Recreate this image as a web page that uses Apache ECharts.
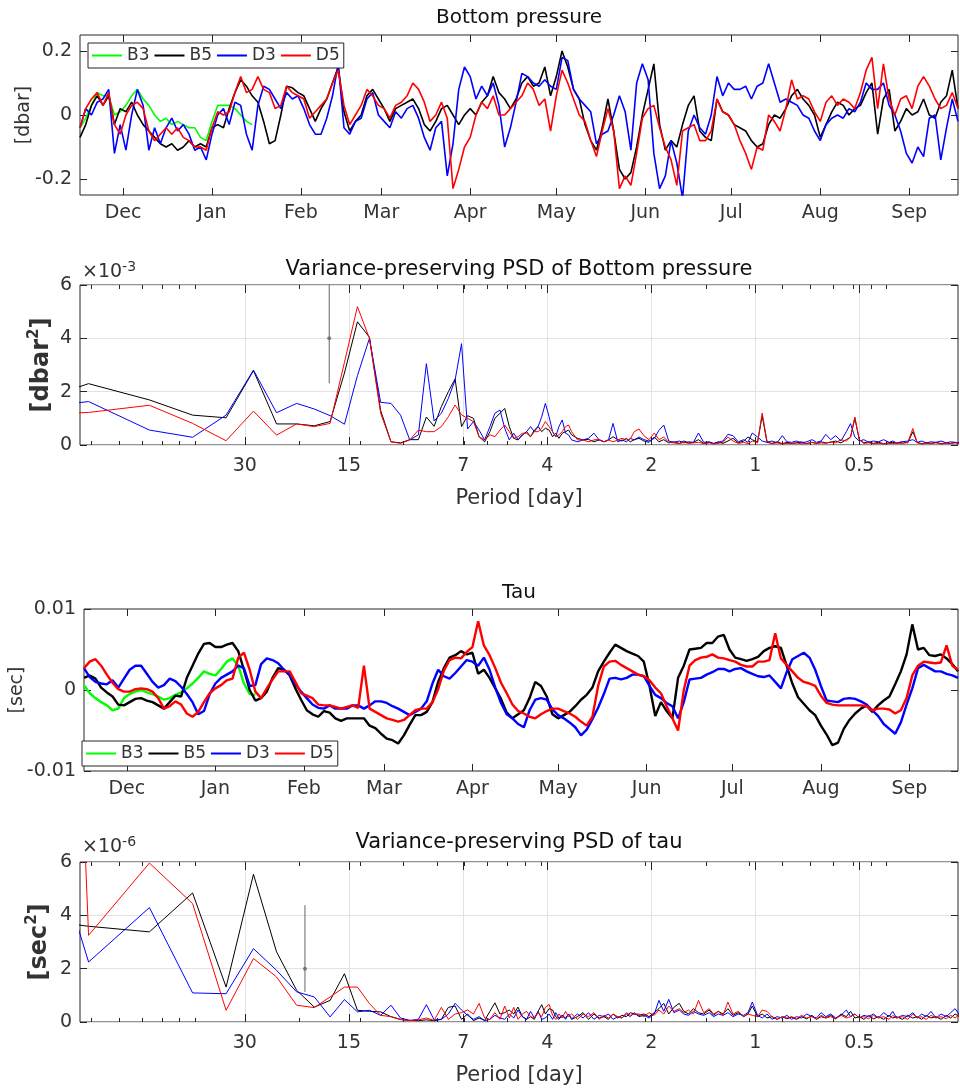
<!DOCTYPE html>
<html>
<head>
<meta charset="utf-8">
<script src="https://cdn.jsdelivr.net/npm/echarts@6/dist/echarts.min.js"></script>
<style>
html, body { margin: 0; padding: 0; background: #fff; }
#chart { width: 960px; height: 1090px; }
</style>
</head>
<body>
<div id="chart"></div>
<script>
// ---------------- data: time series (one sample every 2 days from 16 Nov) ----------------
const startDate = '2018-11-16';
const endDate = '2019-09-18';
const stepDays = 2;
const monthTicks = ['2018-12-01', '2019-01-01', '2019-02-01', '2019-03-01', '2019-04-01',
    '2019-05-01', '2019-06-01', '2019-07-01', '2019-08-01', '2019-09-01'];
const monthNames = ['Jan', 'Feb', 'Mar', 'Apr', 'May', 'Jun', 'Jul', 'Aug', 'Sep', 'Oct', 'Nov', 'Dec'];

// bottom pressure [dbar]
const bpB3 = [-0.04, -0.01, 0.03, 0.07, 0.06, 0.06, 0.0, 0.01, 0.03, 0.06, 0.08, 0.05, 0.03, 0.0, -0.02, -0.01,
    -0.03, -0.02, -0.03, -0.04, -0.04, -0.07, -0.08, -0.02, 0.03, 0.03, 0.03, 0.02, 0.0, -0.02, -0.03];
const bpB5 = [-0.07, -0.03, 0.03, 0.06, 0.03, 0.06, -0.03, 0.02, 0.01, 0.04,
    0.0, -0.03, -0.05, -0.07, -0.09, -0.1, -0.09, -0.11, -0.1, -0.08,
    -0.1, -0.09, -0.1, -0.04, -0.03, -0.04, 0.02, 0.07, 0.11, 0.09,
    0.06, 0.04, -0.02, -0.09, -0.08, 0.0, 0.09, 0.085, 0.07, 0.06,
    0.02, -0.02, 0.02, 0.05, 0.1, 0.15, 0.01, -0.05, -0.02, 0.0,
    0.06, 0.08, 0.05, 0.02, -0.02, 0.02, 0.03, 0.04, 0.05, 0.02,
    -0.03, -0.05, -0.02, 0.02, 0.03, 0.0, -0.03, 0.0, 0.02, 0.0,
    0.04, 0.06, 0.12, 0.07, 0.05, 0.02, 0.05, 0.1, 0.12, 0.09,
    0.1, 0.15, 0.06, 0.12, 0.2, 0.15, 0.08, 0.05, -0.03, -0.08,
    -0.11, -0.04, 0.05, -0.05, -0.17, -0.2, -0.18, -0.1, 0.0, 0.08,
    0.16, -0.03, -0.11, -0.08, -0.1, -0.03, 0.03, 0.06, -0.05, -0.07,
    -0.08, 0.05, 0.01, 0.0, -0.03, -0.04, -0.05, -0.08, -0.1, -0.09,
    -0.03, 0.0, -0.01, 0.02, 0.06, 0.08, 0.05, 0.03, 0.0, -0.07,
    -0.03, 0.01, 0.04, 0.03, 0.0, 0.02, 0.03, 0.07, 0.1, -0.06,
    0.05, 0.08, -0.05, -0.02, 0.02, 0.0, 0.01, 0.05, 0.0, -0.01,
    0.04, 0.06, 0.14, 0.02];
const bpD3 = [-0.04, 0.02, 0.0, 0.04, 0.05, 0.08, -0.12, -0.03, -0.11, 0.0,
    0.08, 0.03, -0.11, -0.04, -0.09, -0.04, -0.01, -0.05, -0.03, -0.06,
    -0.11, -0.1, -0.14, -0.06, 0.0, 0.02, -0.03, 0.04, 0.03, -0.06,
    -0.11, 0.03, 0.09, 0.08, 0.05, 0.02, 0.07, 0.05, 0.06, 0.02,
    -0.03, -0.06, -0.06, -0.01, 0.06, 0.16, -0.04, -0.06, -0.02, -0.01,
    0.05, 0.07, 0.0, -0.02, -0.04, 0.01, -0.01, 0.02, 0.03, -0.01,
    -0.07, -0.11, -0.04, -0.02, -0.19, -0.09, 0.08, 0.15, 0.12, 0.05,
    0.09, 0.06, 0.1, 0.03, -0.1, -0.04, 0.04, 0.13, 0.12, 0.1,
    0.09, 0.11, 0.09, 0.08, 0.18, 0.17, 0.08, 0.05, 0.03, 0.01,
    -0.09, -0.06, -0.05, 0.0, 0.06, 0.01, -0.11, 0.1, 0.16, 0.11,
    -0.12, -0.23, -0.19, -0.08, -0.15, -0.26, -0.05, 0.0, -0.04, -0.06,
    0.0, 0.12, 0.06, 0.1, 0.08, 0.08, 0.09, 0.05, 0.09, 0.1,
    0.16, 0.1, 0.04, 0.05, 0.04, 0.03, 0.0, -0.01, -0.05, -0.08,
    -0.03, -0.01, 0.0, -0.01, 0.02, 0.01, 0.04, 0.1, 0.08, 0.08,
    0.1, 0.03, 0.0, -0.05, -0.12, -0.15, -0.1, -0.13, -0.01, 0.0,
    -0.14, -0.04, 0.05, -0.02];
const bpD5 = [-0.04, 0.02, 0.05, 0.07, 0.03, 0.07, -0.03, -0.06, 0.0, 0.03,
    0.04, 0.02, -0.05, -0.08, -0.06, -0.04, -0.06, -0.04, -0.07, -0.08,
    -0.1, -0.1, -0.11, -0.04, 0.01, 0.0, 0.01, 0.07, 0.12, 0.07,
    0.08, 0.12, 0.08, 0.07, 0.02, 0.03, 0.09, 0.07, 0.06, 0.05,
    -0.01, 0.01, 0.03, 0.05, 0.1, 0.14, 0.03, -0.03, 0.0, 0.03,
    0.08, 0.06, 0.03, 0.02, -0.01, 0.03, 0.04, 0.06, 0.1, 0.08,
    0.04, -0.02, 0.0, 0.04, -0.01, -0.23, -0.17, -0.1, -0.07, 0.0,
    0.04, 0.02, 0.06, 0.0, 0.0, 0.02, 0.04, 0.06, 0.1, 0.08,
    0.03, 0.05, -0.05, 0.06, 0.14, 0.1, 0.05, 0.0, -0.02, -0.08,
    -0.13, -0.05, 0.02, -0.05, -0.23, -0.19, -0.22, -0.12, -0.01, 0.02,
    0.03, -0.04, -0.1, -0.14, -0.22, -0.05, -0.04, -0.03, -0.08, -0.08,
    -0.05, 0.05, 0.01, 0.0, -0.03, -0.08, -0.12, -0.17, -0.1, -0.11,
    0.0, -0.02, -0.05, 0.02, 0.11, 0.05, 0.06, 0.05, 0.01, -0.02,
    0.04, 0.06, 0.03, 0.05, 0.04, 0.02, 0.07, 0.14, 0.18, 0.02,
    0.16, 0.05, 0.0, 0.05, 0.06, 0.02, 0.09, 0.12, 0.09, 0.05,
    0.02, 0.03, 0.07, 0.02];

// tau, read in units of 1e-3 sec
const tauUnit = 1e-3;
const tauB3 = [0.6, -0.4, -1.0, -1.5, -1.9, -2.5, -2.3, -1.0, -0.5, -0.2, 0.0, -0.3, -0.5, -0.8, -1.2, -1.0,
    -0.6, -0.3, 0.2, 0.8, 1.5, 2.3, 2.0, 1.8, 2.6, 3.5, 3.9, 3.0, 0.8, -0.5, -0.6];
const tauB5 = [1.5, 1.8, 1.4, 0.3, -0.3, -0.8, -1.8, -1.9, -1.5, -1.1,
    -1.0, -1.3, -1.5, -1.9, -2.3, -1.5, -0.7, -0.8, 1.5, 3.0,
    4.5, 5.7, 5.8, 5.3, 5.3, 5.6, 5.8, 4.8, 2.5, 0.0,
    -1.3, -1.0, -0.2, 1.5, 2.7, 2.5, 1.8, 0.2, -1.2, -2.5,
    -3.0, -3.3, -2.6, -2.8, -3.5, -3.8, -3.5, -3.5, -3.5, -3.5,
    -4.4, -4.7, -5.4, -6.0, -6.2, -6.6, -5.6, -4.3, -3.1, -3.1,
    -2.7, -1.5, 1.0, 2.7, 4.0, 4.3, 4.8, 4.4, 4.6, 2.0,
    2.5, 1.5, 0.2, -1.1, -2.8, -3.5, -3.0, -2.5, -1.0, 1.0,
    0.5, -0.8, -3.0, -3.5, -3.1, -2.7, -2.0, -1.2, -0.6, 0.3,
    2.3, 3.5, 4.6, 5.6, 5.2, 4.8, 4.5, 4.2, 3.5, 0.5,
    -3.2, -1.5, -2.6, -3.5, 1.5, 3.0, 5.0, 5.1, 5.2, 5.8,
    5.8, 6.6, 6.8, 5.0, 4.0, 3.8, 3.6, 3.8, 4.1, 4.8,
    5.2, 5.4, 5.2, 3.0, 0.8, -0.9, -1.7, -2.5, -3.1, -4.4,
    -5.5, -6.8, -6.5, -4.8, -3.7, -2.9, -2.3, -1.9, -2.7, -1.9,
    -1.3, -0.8, 0.7, 2.3, 4.4, 8.1, 5.0, 5.2, 4.3, 4.2,
    4.4, 3.9, 3.2, 2.3];
const tauD3 = [2.7, 1.6, 1.0, 0.8, 0.7, 1.2, 0.3, 1.4, 2.5, 3.0,
    3.0, 2.0, 1.0, 0.3, 0.6, 1.4, 1.1, 0.4, -0.5, -1.5,
    -3.0, -2.6, -0.5, 0.8, 1.5, 1.9, 2.3, 3.0, 2.7, 0.5,
    0.6, 3.2, 3.9, 3.7, 3.3, 2.5, 1.9, 0.7, -0.2, -1.0,
    -1.8, -2.2, -2.3, -1.9, -2.3, -2.3, -2.3, -1.9, -1.9, -2.3,
    -1.9, -1.4, -1.4, -1.6, -2.0, -2.3, -2.7, -3.1, -2.7, -2.3,
    -1.4, 0.8, 2.5, 1.7, 1.4, 2.1, 2.9, 3.7, 3.5, 3.0,
    4.0, 2.5, 0.3, -1.6, -3.0, -3.5, -4.2, -4.6, -2.5, -1.2,
    -1.0, -1.2, -2.4, -3.1, -3.5, -4.0, -4.6, -5.6, -4.9, -3.6,
    -2.2, -0.5, 1.4, 1.5, 1.3, 1.5, 1.9, 1.9, 1.7, 0.5,
    -0.6, -1.0, -1.6, -2.0, -3.5, -1.5, 1.3, 1.4, 1.5, 1.9,
    2.2, 2.6, 2.6, 2.3, 2.6, 2.7, 2.3, 2.0, 1.7, 1.6,
    1.8, 1.0, 0.2, 2.2, 3.8, 4.2, 4.6, 4.0, 2.5, 0.5,
    -1.3, -1.4, -1.5, -1.1, -1.0, -1.1, -1.4, -1.8, -2.5, -3.2,
    -4.2, -4.8, -5.4, -4.0, -1.8, 0.2, 2.7, 3.1, 2.7, 2.3,
    2.3, 2.0, 1.8, 1.5];
const tauD5 = [2.7, 3.5, 3.8, 3.0, 1.9, 0.9, 0.1, -0.2, -0.2, 0.1,
    0.2, 0.1, -0.2, -1.0, -2.3, -2.0, -1.4, -1.8, -2.9, -3.3,
    -2.7, -1.5, -0.4, 0.2, 0.6, 1.2, 1.4, 4.0, 4.6, 2.5,
    -0.2, -1.0, 0.2, 1.3, 2.3, 2.3, 2.3, 1.0, -0.4, -0.7,
    -1.0, -1.8, -1.9, -1.9, -2.1, -2.3, -2.1, -1.9, -2.2, 3.0,
    -2.3, -2.7, -3.1, -3.5, -3.7, -3.9, -3.7, -3.1, -2.5, -2.3,
    -2.3, -1.5, 0.1, 2.4, 3.7, 4.0, 3.9, 4.7, 5.3, 8.5,
    5.5, 4.3, 2.7, 0.9, -0.4, -1.8, -2.6, -2.9, -3.3, -3.5,
    -3.0, -2.6, -2.3, -2.3, -2.6, -2.9, -3.3, -3.9, -4.4, -3.3,
    0.5, 2.9, 3.5, 3.6, 3.1, 2.7, 2.3, 1.9, 1.7, 1.2,
    0.3, -0.4, -2.0, -3.5, -5.0, 0.0, 3.0, 3.7, 4.0, 4.1,
    4.4, 4.0, 3.9, 3.7, 3.5, 3.1, 2.9, 2.9, 3.5, 3.5,
    3.7, 7.0, 3.9, 3.1, 2.3, 1.5, 1.0, 0.8, 0.5, -0.7,
    -1.6, -1.8, -1.9, -1.9, -1.9, -1.9, -1.9, -2.0, -2.5, -2.3,
    -2.3, -2.4, -2.9, -2.5, -1.0, 1.8, 3.0, 3.5, 3.4, 3.3,
    3.4, 5.5, 3.0, 2.5];

// ---------------- data: variance-preserving spectra ----------------
const periodTicks = [30, 15, 7, 4, 2, 1, 0.5];
const periodMinorTicks = [83.33, 69.44, 59.52, 52.08, 46.3, 41.67, 20.83, 13.89, 10.42, 8.33, 6.94, 5.95,
    5.21, 4.63, 4.17, 2.083, 1.389, 1.042, 0.833, 0.694, 0.595, 0.521, 0.463, 0.417];
const psdPeriod = [170, 85, 56.67, 42.5, 34, 28.33, 24.29, 21.25, 18.89, 17,
    15.45, 14.17, 13.08, 12.14, 11.33, 10.63, 10, 9.44, 8.95, 8.5,
    8.1, 7.73, 7.39, 7.08, 6.8, 6.54, 6.3, 6.07, 5.86, 5.67,
    5.48, 5.31, 5.15, 5, 4.86, 4.72, 4.59, 4.47, 4.36, 4.25,
    4.15, 4.05, 3.95, 3.86, 3.78, 3.7, 3.62, 3.54, 3.47, 3.4,
    3.27, 3.15, 3.04, 2.93, 2.83, 2.74, 2.66, 2.58, 2.5, 2.43, 2.36, 2.3, 2.24,
    2.17, 2.1, 2.03, 1.96, 1.9, 1.84, 1.78, 1.72, 1.66, 1.61,
    1.56, 1.51, 1.46, 1.41, 1.36, 1.32, 1.28, 1.24, 1.2, 1.16,
    1.12, 1.08, 1.05, 1.02, 0.985, 0.955, 0.925, 0.895, 0.865, 0.835,
    0.81, 0.785, 0.76, 0.735, 0.71, 0.685, 0.665, 0.645, 0.625, 0.605,
    0.585, 0.565, 0.545, 0.53, 0.515, 0.5, 0.485, 0.47, 0.455, 0.44,
    0.425, 0.41, 0.4, 0.39, 0.375, 0.362, 0.35, 0.34, 0.33, 0.32,
    0.31, 0.3, 0.29, 0.28, 0.272, 0.264, 0.256];

// bottom pressure PSD, units of 1e-3 dbar^2
const psdBpB5 = [1.0, 2.3, 1.69, 1.12, 1.02, 2.79, 0.79, 0.79, 0.72, 0.88,
    2.7, 4.62, 4.04, 1.3, 0.12, 0.08, 0.2, 0.2, 1.05, 0.7,
    1.44, 2.0, 2.48, 0.69, 1.1, 1.0, 0.31, 0.12, 0.5, 1.0,
    1.19, 1.37, 0.69, 0.25, 0.19, 0.38, 0.5, 0.31, 0.56, 0.69,
    0.5, 0.63, 0.56, 0.31, 0.44, 0.25, 0.44, 0.5, 0.56, 0.38,
    0.25, 0.19, 0.21, 0.12, 0.19, 0.12, 0.19, 0.31, 0.2, 0.15, 0.25, 0.12, 0.2,
    0.25, 0.15, 0.1, 0.3, 0.12, 0.2, 0.08, 0.12, 0.06, 0.15,
    0.08, 0.1, 0.2, 0.06, 0.1, 0.05, 0.12, 0.06, 0.15, 0.25,
    0.08, 0.15, 0.3, 0.2, 0.1, 1.1, 0.1, 0.06, 0.12, 0.05,
    0.1, 0.06, 0.08, 0.12, 0.05, 0.1, 0.06, 0.12, 0.08, 0.1,
    0.15, 0.08, 0.2, 0.3, 1.0, 0.2, 0.08, 0.12, 0.06, 0.1,
    0.05, 0.08, 0.1, 0.06, 0.12, 0.08, 0.5, 0.1, 0.05, 0.08,
    0.06, 0.1, 0.05, 0.08, 0.06, 0.1, 0.05];
const psdBpD3 = [1.15, 1.63, 0.56, 0.29, 1.12, 2.81, 1.21, 1.56, 1.35, 1.1,
    0.78, 2.6, 4.0, 1.6, 1.56, 1.12, 0.19, 0.38, 3.05, 0.9,
    1.19, 1.75, 2.44, 3.8, 0.6, 0.88, 0.56, 0.19, 0.69, 1.19,
    1.31, 0.63, 0.19, 0.44, 0.2, 0.38, 0.5, 0.69, 0.5, 0.69,
    1.06, 1.56, 1.06, 0.5, 0.31, 0.69, 0.94, 0.44, 0.38, 0.19,
    0.12, 0.19, 0.25, 0.44, 0.19, 0.12, 0.19, 0.81, 0.12, 0.19, 0.12, 0.25, 0.19,
    0.3, 0.2, 0.15, 0.25, 0.55, 0.75, 0.15, 0.1, 0.15, 0.08,
    0.12, 0.1, 0.45, 0.1, 0.12, 0.06, 0.1, 0.15, 0.4, 0.35,
    0.12, 0.2, 0.1, 0.45, 0.3, 0.15, 0.1, 0.15, 0.08, 0.35,
    0.12, 0.1, 0.15, 0.08, 0.12, 0.2, 0.1, 0.15, 0.4, 0.2,
    0.35, 0.15, 0.5, 0.8, 0.3, 0.15, 0.2, 0.1, 0.15, 0.12,
    0.2, 0.1, 0.15, 0.08, 0.12, 0.15, 0.2, 0.1, 0.15, 0.08,
    0.12, 0.1, 0.15, 0.08, 0.12, 0.1, 0.08];
const psdBpD5 = [1.1, 1.22, 1.49, 0.81, 0.16, 1.27, 0.37, 0.79, 0.69, 0.81,
    3.1, 5.19, 4.0, 1.19, 0.12, 0.06, 0.19, 0.56, 0.5, 0.5,
    0.69, 1.06, 1.5, 1.13, 1.0, 0.88, 0.31, 0.19, 0.38, 0.31,
    0.56, 0.75, 0.5, 0.25, 0.31, 0.44, 0.44, 0.31, 0.5, 0.5,
    0.63, 0.88, 0.69, 0.5, 0.31, 0.38, 0.5, 0.69, 0.75, 0.5,
    0.19, 0.19, 0.12, 0.19, 0.21, 0.12, 0.19, 0.12, 0.19, 0.25, 0.19, 0.22, 0.5,
    0.6, 0.35, 0.2, 0.45, 0.2, 0.3, 0.1, 0.08, 0.05, 0.1,
    0.06, 0.08, 0.1, 0.05, 0.08, 0.04, 0.06, 0.1, 0.3, 0.15,
    0.06, 0.1, 0.05, 0.15, 0.08, 1.2, 0.15, 0.05, 0.08, 0.04,
    0.06, 0.05, 0.08, 0.04, 0.06, 0.1, 0.05, 0.08, 0.06, 0.12,
    0.08, 0.2, 0.15, 0.3, 1.05, 0.2, 0.06, 0.08, 0.05, 0.06,
    0.04, 0.06, 0.05, 0.08, 0.05, 0.1, 0.62, 0.08, 0.04, 0.06,
    0.05, 0.08, 0.04, 0.06, 0.05, 0.08, 0.04];

// tau PSD, units of 1e-6 sec^2
const psdTauB5 = [4.07, 3.59, 3.38, 4.84, 1.31, 5.54, 2.63, 1.19, 0.56, 0.81,
    1.81, 0.44, 0.4, 0.38, 0.2, 0.09, 0.06, 0.05, 0.08, 0.05,
    0.1, 0.55, 0.6, 0.1, 0.3, 0.05, 0.15, 0.06, 0.4, 0.72,
    0.3, 0.35, 0.45, 0.3, 0.56, 0.2, 0.1, 0.2, 0.1, 0.4,
    0.65, 0.3, 0.5, 0.45, 0.2, 0.1, 0.25, 0.15, 0.3, 0.1,
    0.2, 0.35, 0.1, 0.3, 0.15, 0.2, 0.1, 0.3, 0.15, 0.25, 0.2, 0.35, 0.3,
    0.25, 0.3, 0.2, 0.35, 0.5, 0.7, 0.3, 0.55, 0.7, 0.4,
    0.3, 0.5, 0.35, 0.3, 0.45, 0.25, 0.4, 0.3, 0.5, 0.25,
    0.35, 0.2, 0.3, 0.6, 0.2, 0.3, 0.15, 0.2, 0.1, 0.2,
    0.12, 0.18, 0.1, 0.2, 0.12, 0.25, 0.1, 0.2, 0.15, 0.25,
    0.12, 0.3, 0.2, 0.4, 0.15, 0.2, 0.1, 0.25, 0.12, 0.2,
    0.1, 0.25, 0.15, 0.2, 0.1, 0.25, 0.15, 0.2, 0.1, 0.25,
    0.15, 0.2, 0.1, 0.25, 0.15, 0.3, 0.2];
const psdTauD3 = [15, 2.25, 4.29, 1.09, 1.06, 2.75, 1.94, 1.13, 0.94, 0.19,
    0.84, 0.38, 0.44, 0.25, 0.63, 0.15, 0.06, 0.1, 0.65, 0.08,
    0.1, 0.3, 0.7, 0.45, 0.25, 0.1, 0.2, 0.05, 0.1, 0.25,
    0.15, 0.1, 0.3, 0.15, 0.45, 0.2, 0.1, 0.4, 0.15, 0.4,
    0.1, 0.15, 0.3, 0.1, 0.35, 0.15, 0.25, 0.1, 0.3, 0.12,
    0.3, 0.15, 0.35, 0.1, 0.25, 0.2, 0.3, 0.1, 0.2, 0.15, 0.3, 0.2, 0.35,
    0.2, 0.25, 0.15, 0.3, 0.81, 0.4, 0.85, 0.35, 0.45, 0.3,
    0.25, 0.4, 0.3, 0.25, 0.35, 0.2, 0.3, 0.25, 0.35, 0.2,
    0.3, 0.25, 0.35, 0.75, 0.25, 0.15, 0.3, 0.1, 0.2, 0.15,
    0.25, 0.1, 0.2, 0.15, 0.3, 0.2, 0.15, 0.35, 0.2, 0.3,
    0.15, 0.25, 0.45, 0.2, 0.3, 0.15, 0.25, 0.2, 0.3, 0.15,
    0.35, 0.2, 0.4, 0.15, 0.25, 0.2, 0.35, 0.15, 0.3, 0.2,
    0.4, 0.15, 0.3, 0.2, 0.35, 0.5, 0.25];
const psdTauD5 = [100, 3.25, 5.96, 4.44, 0.44, 2.38, 1.69, 0.63, 0.54, 0.94,
    1.31, 1.31, 0.69, 0.25, 0.2, 0.1, 0.05, 0.08, 0.15, 0.06,
    0.55, 0.1, 0.3, 0.35, 0.45, 0.3, 0.7, 0.15, 0.1, 0.35,
    0.1, 0.6, 0.15, 0.55, 0.1, 0.3, 0.4, 0.2, 0.15, 0.35,
    0.2, 0.55, 0.66, 0.25, 0.1, 0.3, 0.15, 0.4, 0.2, 0.3,
    0.1, 0.3, 0.2, 0.35, 0.1, 0.25, 0.15, 0.3, 0.2, 0.15, 0.35, 0.25, 0.3,
    0.3, 0.2, 0.35, 0.25, 0.45, 0.3, 0.6, 0.4, 0.5, 0.35,
    0.45, 0.3, 0.81, 0.35, 0.5, 0.3, 0.4, 0.25, 0.75, 0.3,
    0.4, 0.2, 0.3, 0.25, 0.2, 0.45, 0.4, 0.2, 0.1, 0.2,
    0.15, 0.2, 0.12, 0.25, 0.15, 0.2, 0.1, 0.25, 0.15, 0.2,
    0.12, 0.25, 0.15, 0.2, 0.3, 0.15, 0.2, 0.12, 0.25, 0.15,
    0.2, 0.1, 0.25, 0.15, 0.2, 0.1, 0.3, 0.15, 0.2, 0.1,
    0.25, 0.15, 0.2, 0.12, 0.25, 0.15, 0.3];

// confidence bars: [period, low, estimate, high]
const bpErrorBar = [17.1, 2.31, 4.0, 8.76];
const tauErrorBar = [20.1, 1.13, 2.0, 4.38];

// ---------------- chart ----------------
const FONT = 'DejaVu Sans';
const AXIS_COLOR = '#262626';
const TEXT_COLOR = '#333';
const GRID_COLOR = '#e2e2e2';
const COLORS = { B3: '#00ff00', B5: '#000000', D3: '#0000ff', D5: '#ff0000' };
const DAY = 86400000;
const T0 = Date.parse(startDate);
const T1 = Date.parse(endDate);
const monthTickTimes = monthTicks.map(s => Date.parse(s));
const PMIN = 0.259, PMAX = 90;

const chart = echarts.init(document.getElementById('chart'));

// x in milliseconds on a plain value axis, ticks at month starts
function timeAxis(gridIndex, position, withLabels) {
    return {
        type: 'value', gridIndex: gridIndex, position: position, min: T0, max: T1,
        axisLine: { show: false, onZero: false },
        axisTick: { show: true, inside: true, length: 7, customValues: monthTickTimes,
            lineStyle: { color: AXIS_COLOR, width: 1 } },
        axisLabel: { show: withLabels, customValues: monthTickTimes, margin: 9,
            formatter: v => monthNames[new Date(v).getUTCMonth()],
            fontFamily: FONT, fontSize: 19, color: TEXT_COLOR },
        splitLine: { show: false }
    };
}

function periodAxis(gridIndex, position, ticks, len, withLabels, withGrid) {
    return {
        type: 'log', gridIndex: gridIndex, position: position, inverse: true, min: PMIN, max: PMAX,
        axisLine: { show: false, onZero: false },
        axisTick: { show: true, inside: true, length: len, customValues: ticks,
            lineStyle: { color: AXIS_COLOR, width: 1 } },
        axisLabel: { show: withLabels, customValues: ticks, margin: 12,
            formatter: v => String(+Number(v).toPrecision(3)),
            fontFamily: FONT, fontSize: 19, color: TEXT_COLOR },
        splitLine: { show: withGrid, lineStyle: { color: GRID_COLOR, width: 1 } },
        name: withLabels ? 'Period [day]' : '',
        nameLocation: 'middle', nameGap: 43, nameMoveOverlap: false,
        nameTextStyle: { fontFamily: FONT, fontSize: 21, color: TEXT_COLOR }
    };
}

function valueAxis(gridIndex, position, cfg) {
    const isLeft = position === 'left';
    return {
        type: 'value', gridIndex: gridIndex, position: position,
        min: cfg.min, max: cfg.max,
        axisLine: { show: false, onZero: false },
        axisTick: { show: true, inside: true, length: 7, customValues: cfg.ticks,
            lineStyle: { color: AXIS_COLOR, width: 1 } },
        axisLabel: { show: isLeft, customValues: cfg.ticks, margin: 8,
            formatter: v => String(v),
            fontFamily: FONT, fontSize: 19, color: TEXT_COLOR },
        splitLine: { show: !!cfg.grid && isLeft, lineStyle: { color: GRID_COLOR, width: 1 } },
        name: isLeft ? cfg.name : '',
        nameLocation: 'middle', nameRotate: 90, nameGap: cfg.nameGap, nameMoveOverlap: false,
        nameTextStyle: cfg.nameStyle
    };
}

const plainName = { fontFamily: FONT, fontSize: 19, color: TEXT_COLOR };
const supName = {
    rich: {
        n: { fontFamily: FONT, fontSize: 24, fontWeight: 'bold', color: TEXT_COLOR, lineHeight: 30 },
        s: { fontFamily: FONT, fontSize: 15, fontWeight: 'bold', color: TEXT_COLOR, lineHeight: 16, verticalAlign: 'top' }
    }
};

const grids = [
    { left: 80, right: 2, top: 35, height: 160 },
    { left: 80, right: 2, top: 285, height: 160 },
    { left: 80, right: 2, top: 609, height: 162 },
    { left: 80, right: 2, top: 862, height: 160 }
].map(g => Object.assign({ show: true, borderColor: AXIS_COLOR, borderWidth: 1, backgroundColor: '#fff' }, g));

const xAxes = [
    timeAxis(0, 'bottom', true),                                 // 0
    timeAxis(0, 'top', false),                                   // 1
    periodAxis(1, 'bottom', periodTicks, 8, true, true),         // 2
    periodAxis(1, 'top', periodTicks, 8, false, false),          // 3
    periodAxis(1, 'bottom', periodMinorTicks, 4, false, false),  // 4
    periodAxis(1, 'top', periodMinorTicks, 4, false, false),     // 5
    timeAxis(2, 'bottom', true),                                 // 6
    timeAxis(2, 'top', false),                                   // 7
    periodAxis(3, 'bottom', periodTicks, 8, true, true),         // 8
    periodAxis(3, 'top', periodTicks, 8, false, false),          // 9
    periodAxis(3, 'bottom', periodMinorTicks, 4, false, false),  // 10
    periodAxis(3, 'top', periodMinorTicks, 4, false, false)      // 11
];

const bpCfg = { min: -0.25, max: 0.25, ticks: [-0.2, 0, 0.2], name: '[dbar]', nameGap: 46, nameStyle: plainName };
const psdBpCfg = { min: 0, max: 6, ticks: [0, 2, 4, 6], grid: true, name: '{n|[dbar}{s|2}{n|]}', nameGap: 23, nameStyle: supName };
const tauCfg = { min: -0.01, max: 0.01, ticks: [-0.01, 0, 0.01], name: '[sec]', nameGap: 57, nameStyle: plainName };
const psdTauCfg = { min: 0, max: 6, ticks: [0, 2, 4, 6], grid: true, name: '{n|[sec}{s|2}{n|]}', nameGap: 25, nameStyle: supName };

const yAxes = [
    valueAxis(0, 'left', bpCfg), valueAxis(0, 'right', bpCfg),
    valueAxis(1, 'left', psdBpCfg), valueAxis(1, 'right', psdBpCfg),
    valueAxis(2, 'left', tauCfg), valueAxis(2, 'right', tauCfg),
    valueAxis(3, 'left', psdTauCfg), valueAxis(3, 'right', psdTauCfg)
];

function tsSeries(name, values, xi, yi, scale, width) {
    return {
        type: 'line', name: name, xAxisIndex: xi, yAxisIndex: yi,
        showSymbol: false, symbol: 'none', clip: true,
        lineStyle: { color: COLORS[name], width: width },
        itemStyle: { color: COLORS[name] },
        data: values.map((v, i) => [T0 + i * stepDays * DAY, v * scale])
    };
}

function psdSeries(name, values, xi, yi) {
    return {
        type: 'line', name: name + ' spectrum', xAxisIndex: xi, yAxisIndex: yi,
        showSymbol: false, symbol: 'none', clip: true,
        lineStyle: { color: COLORS[name], width: 1 },
        itemStyle: { color: COLORS[name] },
        data: psdPeriod.map((p, i) => [p, values[i]])
    };
}

function errorBarSeries(bar, xi, yi) {
    return [
        { type: 'line', name: 'ci', xAxisIndex: xi, yAxisIndex: yi, showSymbol: false, symbol: 'none', clip: true,
          lineStyle: { color: '#666', width: 1 }, data: [[bar[0], bar[1]], [bar[0], bar[3]]] },
        { type: 'scatter', name: 'ci', xAxisIndex: xi, yAxisIndex: yi, symbolSize: 4,
          itemStyle: { color: '#666' }, data: [[bar[0], bar[2]]] }
    ];
}

const series = [
    tsSeries('B3', bpB3, 0, 0, 1, 1.6),
    tsSeries('B5', bpB5, 0, 0, 1, 1.6),
    tsSeries('D3', bpD3, 0, 0, 1, 1.6),
    tsSeries('D5', bpD5, 0, 0, 1, 1.6),
    ...errorBarSeries(bpErrorBar, 2, 2),
    psdSeries('B5', psdBpB5, 2, 2),
    psdSeries('D3', psdBpD3, 2, 2),
    psdSeries('D5', psdBpD5, 2, 2),
    tsSeries('B3', tauB3, 6, 4, tauUnit, 2.4),
    tsSeries('B5', tauB5, 6, 4, tauUnit, 2.4),
    tsSeries('D3', tauD3, 6, 4, tauUnit, 2.4),
    tsSeries('D5', tauD5, 6, 4, tauUnit, 2.4),
    ...errorBarSeries(tauErrorBar, 8, 6),
    psdSeries('B5', psdTauB5, 8, 6),
    psdSeries('D3', psdTauD3, 8, 6),
    psdSeries('D5', psdTauD5, 8, 6)
];

const legendBase = {
    data: ['B3', 'B5', 'D3', 'D5'], orient: 'horizontal', selectedMode: false,
    icon: 'rect', itemWidth: 30, itemHeight: 2, itemGap: 5, padding: [4, 4],
    borderColor: AXIS_COLOR, borderWidth: 1, backgroundColor: '#fff',
    textStyle: { fontFamily: FONT, fontSize: 17, color: TEXT_COLOR }
};

function titleText(text, y, size) {
    return { type: 'text', x: 519, y: y,
        style: { text: text, fontFamily: FONT, fontSize: size, fill: '#111', align: 'center', verticalAlign: 'middle' } };
}

function exponentText(exp, y) {
    return { type: 'text', x: 82, y: y,
        style: { text: '{n|\u00d710}{s|' + exp + '}', verticalAlign: 'top',
            rich: {
                n: { fontFamily: FONT, fontSize: 19, fill: TEXT_COLOR, lineHeight: 24 },
                s: { fontFamily: FONT, fontSize: 14, fill: TEXT_COLOR, lineHeight: 14, verticalAlign: 'top' }
            } } };
}

chart.setOption({
    animation: false,
    backgroundColor: '#fff',
    grid: grids,
    xAxis: xAxes,
    yAxis: yAxes,
    legend: [
        Object.assign({ left: 88, top: 43 }, legendBase),
        Object.assign({ left: 82, top: 741 }, legendBase)
    ],
    graphic: [
        titleText('Bottom pressure', 18, 20),
        titleText('Variance-preserving PSD of Bottom pressure', 270, 21),
        titleText('Tau', 593, 20),
        titleText('Variance-preserving PSD of tau', 843, 21),
        exponentText('-3', 260),
        exponentText('-6', 835)
    ],
    series: series
});
</script>
</body>
</html>
